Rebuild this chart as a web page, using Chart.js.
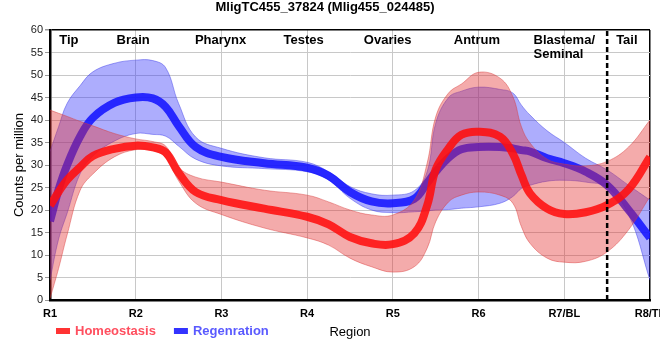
<!DOCTYPE html>
<html>
<head>
<meta charset="utf-8">
<script src="https://cdn.jsdelivr.net/npm/chart.js@4.4.0/dist/chart.umd.min.js"></script>
<style>
  html, body { margin: 0; padding: 0; background: #fff; }
  #wrap { width: 660px; height: 360px; }
</style>
</head>
<body>
<div id="wrap"><canvas id="graficoRegiones"></canvas></div>
<script>
// ==========================================
// DATOS
// ==========================================
const xLabels = ['R1', 'R2', 'R3', 'R4', 'R5', 'R6', 'R7/BL', 'R8/TL'];
const regionNames = ['Tip', 'Brain', 'Pharynx', 'Testes', 'Ovaries', 'Antrum', ['Blastema/', 'Seminal'], 'Tail'];
const regionX = [1.22, 1.97, 2.99, 3.96, 4.94, 5.98, 7.0, 7.73];
const tailLimit = 7.5;
const seriesNames = ['Homeostasis', 'Regenration'];

// posiciones a lo largo del eje (R1 = 1 ... R8 = 8)
const xs = [1, 1.1, 1.2, 1.35, 1.5, 1.75, 2, 2.2, 2.35, 2.5, 2.7, 3, 3.5, 4, 4.25, 4.5, 4.75, 5,
            5.25, 5.4, 5.5, 5.65, 5.8, 6, 6.25, 6.4, 6.5, 6.6, 6.8, 7, 7.25, 7.5, 7.75, 8];

const homeo   = [21, 24, 26.7, 29.5, 32, 33.6, 34.3, 33.9, 32.8, 28.3, 24, 22.2, 20.3, 18.5, 16.8, 14, 12.6, 12.4,
                 14.8, 21, 29, 33.7, 36.7, 37.4, 36.3, 32.5, 27.8, 23.7, 20.3, 19.1, 19.5, 21.1, 24.6, 31.8];
const homeoHi = [42.2, 41.5, 40.8, 39.7, 38.7, 37, 35.8, 35.2, 34.2, 29.5, 27.3, 26.2, 24.4, 23.3, 21.8, 20, 18.9, 18.9,
                 22.2, 30.4, 40.7, 46, 48, 50.6, 49.3, 45.2, 38.5, 34.9, 31.3, 30.2, 29.8, 30.8, 34, 40];
const homeoLo = [0.3, 7, 14.5, 24.3, 28, 31.8, 33.4, 33.2, 31.6, 26.5, 21.5, 19, 16, 13.8, 12.2, 9.3, 7.4, 6.2,
                 7.4, 11.5, 17.4, 21.8, 23.3, 24, 23.3, 21.5, 16.3, 12.6, 9.3, 8.4, 8.6, 10.7, 15.6, 23];

const regen   = [17.5, 24.5, 30, 36.3, 40.5, 43.8, 45, 44.8, 42.9, 38.7, 34, 31.8, 30.4, 29.4, 27.6, 24, 21.9, 21.5,
                 22.5, 26, 28.5, 31.6, 33.5, 34, 34, 33.7, 33.3, 33, 31.5, 30.4, 28.5, 25.5, 20, 13.8];
const regenHi = [33, 38.5, 43.7, 47.6, 50.7, 52.6, 53.3, 53.2, 51.6, 43.7, 36.2, 33.7, 31.6, 30.6, 28.5, 25.2, 23.6, 23.3,
                 24.3, 28.5, 39.3, 45, 46.4, 47.3, 46.8, 46, 43.3, 41.1, 37.6, 35, 31.5, 28.9, 25.5, 22.2];
const regenLo = [4.4, 13.5, 19.3, 28, 32, 35.3, 37, 36.8, 36.4, 34.2, 31.3, 29.8, 29.2, 28.5, 26.7, 22.6, 20, 19.4,
                 19.6, 19.8, 20, 20.1, 20.4, 20.7, 21.5, 23, 24.8, 25.5, 26.4, 26.6, 26.2, 25, 19, 4.4];

const FONT = "'Liberation Sans', Arial, sans-serif";
const lineColors = ['rgba(255, 15, 15, 0.88)', 'rgba(15, 15, 255, 0.85)'];
const boxColors = ['#ff3333', '#3333ff'];
const textColors = ['#ff4f5f', '#5a5aff'];

const toPts = arr => xs.map((x, i) => ({ x, y: arr[i] }));

// Plugin: nombres de regiones arriba
const regionText = {
    id: 'regionText',
    afterDatasetsDraw(chart) {
        const { ctx, chartArea, scales: { x } } = chart;
        ctx.save();
        ctx.font = `bold 13px ${FONT}`;
        ctx.fillStyle = '#000';
        ctx.textAlign = 'left';
        ctx.textBaseline = 'middle';
        regionNames.forEach((name, i) => {
            const lines = [].concat(name);
            const w = Math.max(...lines.map(l => ctx.measureText(l).width));
            const left = x.getPixelForValue(regionX[i]) - w / 2;
            lines.forEach((l, j) => ctx.fillText(l, left, chartArea.top + 10 + j * 14));
        });
        ctx.restore();
    }
};

// Plugin: leyenda + título del eje X en la misma fila
const legendRow = {
    id: 'legendRow',
    afterDraw(chart) {
        const { ctx, chartArea } = chart;
        ctx.save();
        ctx.textBaseline = 'middle';
        ctx.font = `bold 13px ${FONT}`;
        let x = 56;
        const y = 331;
        seriesNames.forEach((name, i) => {
            ctx.fillStyle = boxColors[i];
            ctx.fillRect(x, y - 3, 14, 6);
            ctx.fillStyle = textColors[i];
            ctx.fillText(name, x + 19, y);
            x += 19 + ctx.measureText(name).width + 18;
        });
        ctx.font = `13px ${FONT}`;
        ctx.fillStyle = '#000';
        ctx.textAlign = 'center';
        ctx.fillText('Region', (chartArea.left + chartArea.right) / 2, 332);
        ctx.restore();
    }
};

const ctx = document.getElementById('graficoRegiones').getContext('2d');
new Chart(ctx, {
    type: 'line',
    data: {
        datasets: [
            { label: seriesNames[0], data: toPts(homeo), borderColor: lineColors[0], borderWidth: 8, fill: false, order: 0 },
            { label: 'H+', data: toPts(homeoHi), borderColor: 'rgba(215, 60, 60, 0.45)', borderWidth: 1,
              backgroundColor: 'rgba(228, 45, 45, 0.4)', fill: '+1', order: 1 },
            { label: 'H-', data: toPts(homeoLo), borderColor: 'rgba(215, 60, 60, 0.45)', borderWidth: 1, fill: false, order: 2 },
            { label: seriesNames[1], data: toPts(regen), borderColor: lineColors[1], borderWidth: 8, fill: false, order: 3 },
            { label: 'R+', data: toPts(regenHi), borderColor: 'rgba(60, 60, 230, 0.45)', borderWidth: 1,
              backgroundColor: 'rgba(50, 50, 250, 0.4)', fill: '+1', order: 4 },
            { label: 'R-', data: toPts(regenLo), borderColor: 'rgba(60, 60, 230, 0.45)', borderWidth: 1, fill: false, order: 5 },
            { label: 'tail', data: [{ x: tailLimit, y: 0 }, { x: tailLimit, y: 60 }], borderColor: '#000', borderWidth: 2.5,
              borderDash: [5, 3], fill: false, order: -1, tension: 0 }
        ]
    },
    options: {
        responsive: true, maintainAspectRatio: false, animation: false, devicePixelRatio: 1,
        layout: { padding: { top: 0, right: 10, bottom: 0, left: 0 } },
        elements: {
            point: { radius: 0, hoverRadius: 0 },
            line: { tension: 0.4, borderCapStyle: 'butt' }
        },
        plugins: {
            legend: { display: false },
            tooltip: { enabled: false },
            title: {
                display: true, text: 'MligTC455_37824 (Mlig455_024485)', color: '#000',
                font: { family: FONT, size: 13, weight: 'bold' }, padding: { top: 0, bottom: 14.4 }
            }
        },
        scales: {
            x: {
                type: 'linear', min: 1, max: 8,
                ticks: {
                    stepSize: 1, autoSkip: false, maxRotation: 0, padding: 7, color: '#000',
                    font: { family: FONT, size: 11, weight: 'bold' },
                    callback: v => xLabels[Math.round(v) - 1]
                },
                grid: {
                    color: c => c.tick && c.tick.value === 8 ? '#000' : '#c8c8c8',
                    lineWidth: c => c.tick && c.tick.value === 8 ? 1.5 : 1,
                    drawTicks: false
                },
                border: { color: '#000', width: 2.5 },
                afterFit: s => { s.height = 60; s.paddingLeft = 0; s.paddingRight = 0; }
            },
            y: {
                min: 0, max: 60,
                ticks: { stepSize: 5, padding: 2, color: '#222', font: { family: FONT, size: 11 } },
                grid: {
                    color: c => c.tick && c.tick.value === 60 ? '#000' : '#c8c8c8',
                    lineWidth: c => c.tick && c.tick.value === 60 ? 1.5 : 1,
                    tickLength: 5, tickColor: '#999'
                },
                border: { color: '#000', width: 2.5 },
                title: {
                    display: true, text: 'Counts per million', color: '#000',
                    font: { family: FONT, size: 13 }, padding: { top: 12, bottom: 0 }
                },
                afterFit: s => { s.width = 50; }
            }
        }
    },
    plugins: [regionText, legendRow]
});
</script>
</body>
</html>
